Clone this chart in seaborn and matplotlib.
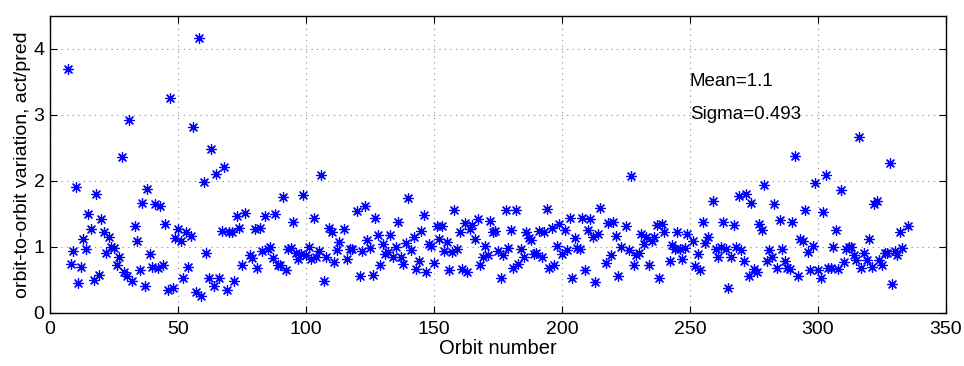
import matplotlib
matplotlib.use("Agg")
import matplotlib.pyplot as plt
import seaborn as sns

orbit = [7, 8, 9, 10, 11, 12, 13, 14, 15, 16, 17, 18, 19, 20, 21, 22, 23, 24, 25, 26,
         27, 28, 29, 30, 31, 32, 33, 34, 35, 36, 37, 38, 39, 40, 41, 42, 43, 44, 45, 46,
         47, 48, 49, 50, 51, 52, 53, 54, 55, 56, 57, 58, 59, 60, 61, 62, 63, 64, 65, 66,
         67, 68, 69, 70, 71, 72, 73, 74, 75, 76, 78, 79, 80, 81, 82, 83, 84, 85, 86, 87,
         88, 89, 90, 91, 92, 93, 94, 95, 96, 97, 98, 99, 100, 101, 102, 103, 104, 105, 106, 107,
         108, 109, 110, 111, 112, 113, 115, 116, 117, 118, 120, 121, 122, 123, 124, 125, 126, 127, 128, 129,
         130, 131, 132, 133, 134, 135, 136, 137, 138, 139, 140, 141, 142, 143, 144, 145, 146, 147, 148, 149,
         150, 151, 152, 153, 154, 155, 156, 157, 158, 159, 160, 161, 162, 163, 164, 165, 166, 167, 168, 169,
         170, 171, 172, 173, 174, 175, 176, 177, 178, 179, 180, 181, 182, 183, 184, 185, 186, 187, 188, 189,
         190, 191, 192, 193, 194, 195, 196, 197, 198, 199, 200, 201, 202, 203, 204, 205, 206, 207, 208, 209,
         210, 211, 212, 213, 214, 215, 217, 218, 219, 220, 221, 222, 223, 225, 226, 227, 228, 229, 230, 231,
         232, 233, 234, 235, 236, 237, 238, 239, 240, 242, 243, 244, 245, 246, 247, 248, 249, 251, 252, 253,
         254, 255, 256, 257, 259, 260, 261, 262, 263, 264, 265, 266, 267, 268, 269, 270, 271, 272, 273, 274,
         275, 276, 277, 278, 279, 280, 281, 282, 283, 284, 285, 286, 287, 288, 289, 290, 291, 292, 293, 294,
         295, 296, 297, 298, 299, 300, 301, 302, 303, 304, 305, 306, 307, 308, 309, 310, 311, 312, 313, 314,
         315, 316, 317, 318, 319, 320, 321, 322, 323, 324, 325, 326, 327, 328, 329, 330, 331, 332, 333, 335]
ratio = [3.69, 0.74, 0.93, 1.91, 0.45, 0.70, 1.11, 0.96, 1.49, 1.27, 0.49, 1.80, 0.57, 1.42, 1.23, 0.91, 1.14, 0.99, 0.98, 0.73,
         0.84, 2.36, 0.62, 0.55, 2.92, 0.48, 1.32, 1.09, 0.64, 1.66, 0.41, 1.88, 0.89, 0.70, 1.64, 0.68, 1.61, 0.72, 1.35, 0.35,
         3.26, 0.38, 1.13, 1.27, 1.09, 0.52, 1.23, 0.70, 1.16, 2.81, 0.32, 4.16, 0.25, 1.98, 0.91, 0.52, 2.48, 0.40, 2.10, 0.52,
         1.24, 2.21, 0.35, 1.22, 1.23, 0.48, 1.47, 1.28, 0.72, 1.51, 0.88, 0.83, 1.27, 0.68, 1.28, 0.94, 1.47, 0.96, 0.99, 0.83,
         1.49, 0.73, 0.73, 1.75, 0.64, 0.97, 0.98, 1.38, 0.91, 0.81, 0.89, 1.78, 0.87, 0.99, 0.82, 1.44, 0.85, 0.93, 2.08, 0.48,
         0.85, 1.29, 1.22, 0.77, 0.95, 1.07, 1.27, 0.81, 0.96, 0.97, 1.54, 0.55, 0.93, 1.61, 1.10, 0.98, 0.57, 1.43, 1.17, 0.73,
         1.04, 0.89, 0.92, 1.17, 0.85, 0.99, 1.38, 0.85, 0.74, 1.06, 1.74, 0.95, 1.14, 0.66, 0.78, 1.24, 1.48, 0.61, 1.04, 1.01,
         0.75, 1.32, 1.11, 1.32, 0.93, 1.07, 0.64, 0.92, 1.56, 0.96, 1.22, 0.66, 1.36, 0.62, 1.27, 1.33, 1.11, 1.42, 0.72, 0.85,
         1.01, 0.87, 1.39, 1.23, 1.24, 0.94, 0.52, 0.87, 1.56, 0.98, 1.26, 0.68, 1.56, 0.74, 0.97, 0.85, 1.22, 1.13, 1.10, 0.89,
         0.90, 1.24, 0.85, 1.23, 1.57, 0.68, 1.28, 0.72, 1.01, 1.35, 0.89, 1.26, 0.95, 1.43, 0.53, 1.13, 0.98, 0.97, 1.44, 0.65,
         1.25, 1.42, 1.14, 0.46, 1.20, 1.59, 0.76, 1.36, 0.87, 1.37, 1.16, 0.55, 0.99, 1.31, 0.95, 2.07, 0.73, 0.87, 0.90, 1.19,
         1.04, 1.14, 0.73, 1.09, 1.14, 1.33, 0.52, 1.35, 1.23, 0.78, 1.02, 0.96, 1.23, 0.96, 0.82, 0.98, 1.19, 1.08, 0.71, 0.89,
         0.65, 1.37, 1.05, 1.14, 1.69, 0.97, 0.85, 0.99, 1.38, 0.97, 0.37, 0.85, 1.33, 1.00, 1.77, 0.95, 0.78, 1.80, 0.55, 1.66,
         0.66, 0.61, 1.35, 1.26, 1.94, 0.79, 0.95, 0.85, 1.64, 0.68, 1.41, 0.97, 0.78, 0.67, 0.66, 1.37, 2.37, 0.55, 1.12, 1.09,
         1.56, 0.92, 0.64, 1.01, 1.96, 0.64, 0.52, 1.53, 2.08, 0.68, 0.67, 0.99, 1.26, 0.66, 1.86, 0.77, 0.97, 0.99, 1.00, 0.87,
         0.80, 2.66, 0.68, 0.90, 0.80, 1.12, 0.69, 1.65, 1.69, 0.80, 0.73, 0.91, 0.91, 2.27, 0.43, 0.94, 0.87, 1.22, 0.98, 1.31]

mean_txt = "Mean=1.1"
sigma_txt = "Sigma=0.493"
x_ticks = [0, 50, 100, 150, 200, 250, 300, 350]
y_ticks = [0, 1, 2, 3, 4]

sns.set_theme(style="ticks")
plt.rcParams['font.family'] = ['Liberation Sans', 'DejaVu Sans']
plt.rcParams['text.color'] = 'black'
plt.rcParams['axes.labelcolor'] = 'black'

fig = plt.figure(figsize=(9.64, 3.66), dpi=100)
ax = fig.add_axes([0.0519, 0.1456, 0.9294, 0.8114])

sns.scatterplot(x=orbit, y=ratio, marker=(8, 2, 0), s=50, color="blue",
                linewidth=0.9, ax=ax, zorder=3)

ax.set_xlim(0, 350)
ax.set_ylim(0, 4.5)
ax.set_xticks(x_ticks)
ax.set_yticks(y_ticks)
ax.grid(True, linestyle=(0, (1, 4)), color="#888888", linewidth=0.8)
ax.tick_params(direction="in", top=True, right=True, length=5, width=0.8,
               labelsize=14, colors="black")
ax.tick_params(axis="x", pad=6)
ax.tick_params(axis="y", pad=4)
for sp in ax.spines.values():
    sp.set_visible(True)
    sp.set_color("black")
    sp.set_linewidth(1.0)

ax.set_xlabel("Orbit number", fontsize=14.5, labelpad=1, color="black")
ax.set_ylabel("orbit-to-orbit variation, act/pred", fontsize=14, labelpad=2, color="black")

ax.text(250, 3.5, mean_txt, fontsize=13.5, va="center", ha="left", color="black")
ax.text(250, 3.0, sigma_txt, fontsize=13.5, va="center", ha="left", color="black")

fig.savefig("out.png", dpi=100)
